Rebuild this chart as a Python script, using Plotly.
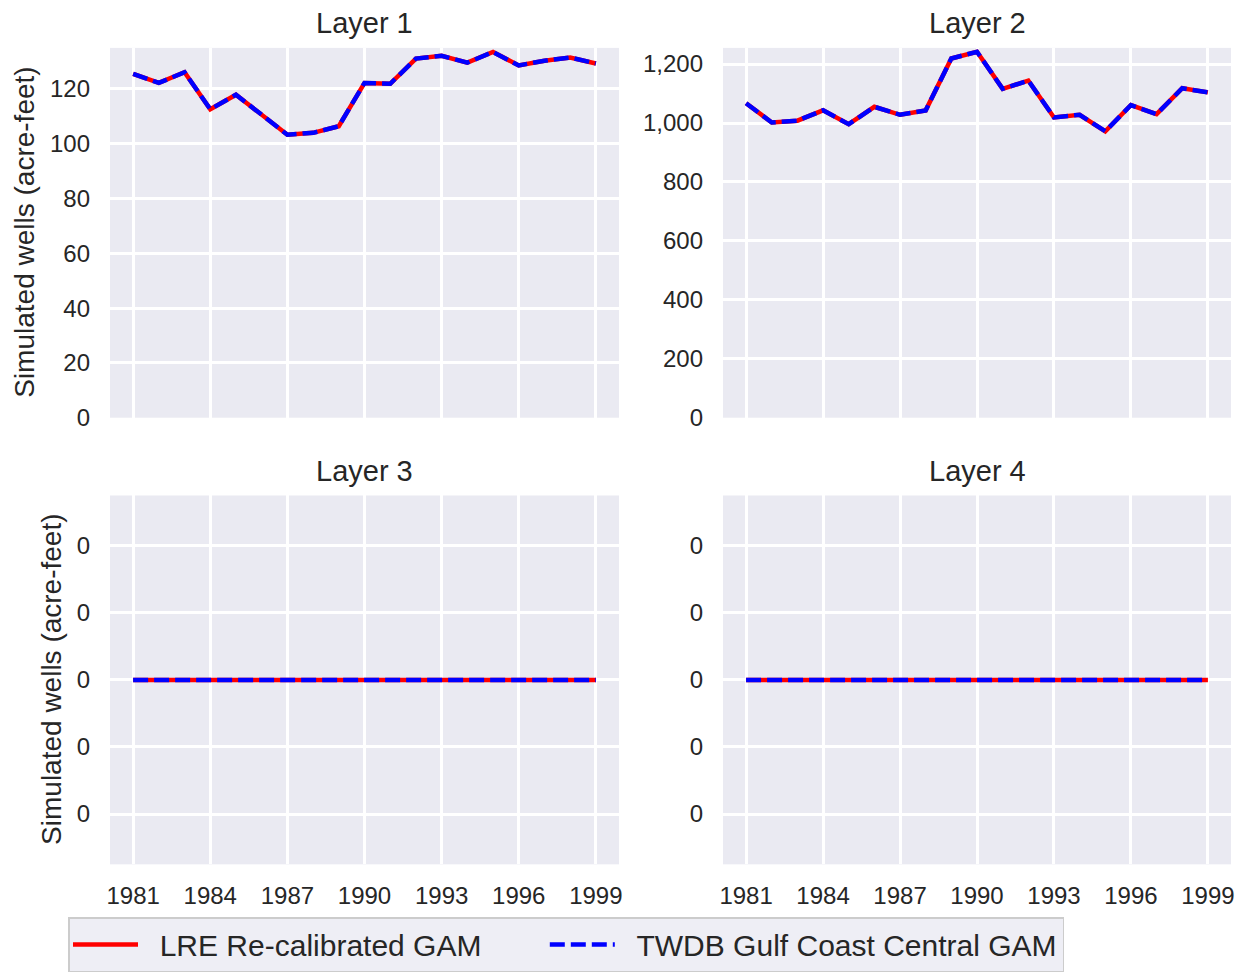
import plotly.graph_objects as go

years = list(range(1981, 2000))

layer1_lre = [125.5, 122.2, 126.1, 112.6, 117.9, 110.7, 103.3, 104.0, 106.4, 122.2,
              121.9, 131.1, 132.1, 129.6, 133.5, 128.6, 130.3, 131.5, 129.3]
layer1_twdb = list(layer1_lre)

layer2_lre = [1067, 1002, 1008, 1043, 996, 1055, 1028, 1043, 1219, 1242,
              1116, 1144, 1019, 1028, 972, 1061, 1030, 1118, 1104]
layer2_twdb = list(layer2_lre)

layer3_lre = [0] * 19
layer3_twdb = [0] * 19
layer4_lre = [0] * 19
layer4_twdb = [0] * 19

titles = ["Layer 1", "Layer 2", "Layer 3", "Layer 4"]
series_names = ["LRE Re-calibrated GAM", "TWDB Gulf Coast Central GAM"]
ylabel = "Simulated wells (acre-feet)"
small_tickvals = [-0.04, -0.02, 0, 0.02, 0.04]
small_ticktext = ["0", "0", "0", "0", "0"]

# page body has an 8px margin; work in page pixels and convert
OFF = 8
W, H = 1249 - OFF, 972 - OFF
FONT = "Liberation Sans, Arial, sans-serif"
TXT = "#262626"
BG = "#EAEAF2"
NB = "\u00a0"


def px(x):
    return (x - OFF) / W


def py(y):
    return 1 - (y - OFF) / H


# panel pixel boxes in page coords (left, right, top, bottom)
boxes = [(110, 619, 48, 419), (723, 1231, 48, 419),
         (110, 619, 497, 867), (723, 1231, 497, 867)]

legend_labels = [NB * 2 + series_names[0] + NB * 7, NB * 2 + series_names[1]]

fig = go.Figure()
data = [(layer1_lre, layer1_twdb), (layer2_lre, layer2_twdb),
        (layer3_lre, layer3_twdb), (layer4_lre, layer4_twdb)]

for i, (lre, twdb) in enumerate(data):
    ax = "" if i == 0 else str(i + 1)
    fig.add_trace(go.Scatter(x=years, y=lre, mode="lines", name=legend_labels[0],
                             line=dict(color="#ff0000", width=4.5),
                             xaxis="x" + ax, yaxis="y" + ax,
                             showlegend=(i == 0), legendgroup="a"))
    fig.add_trace(go.Scatter(x=years, y=twdb, mode="lines", name=legend_labels[1],
                             line=dict(color="#0000ff", width=4.5, dash="15px,6px"),
                             xaxis="x" + ax, yaxis="y" + ax,
                             showlegend=(i == 0), legendgroup="b"))

layout = dict(
    width=W, height=H,
    margin=dict(l=0, r=0, t=0, b=0),
    paper_bgcolor="white", plot_bgcolor=BG,
    font=dict(family=FONT, color=TXT, size=24),
    showlegend=True,
    legend=dict(orientation="h", x=px(68), y=py(920), xanchor="left", yanchor="top",
                font=dict(size=30, family=FONT, color=TXT),
                bgcolor="rgba(234,234,242,0.8)", bordercolor="#cccccc", borderwidth=1.5,
                itemwidth=65),
)

yranges = [[0, 135], [0, 1255], [-0.055, 0.055], [-0.055, 0.055]]
annotations = []
for i, (l, r, t, b) in enumerate(boxes):
    ax = "" if i == 0 else str(i + 1)
    xa = dict(domain=[px(l), px(r)], range=[1980.1, 1999.9], anchor="y" + ax,
              tickmode="linear", tick0=1981, dtick=3, showgrid=True, gridcolor="white",
              gridwidth=2.5, zeroline=False, showline=False, ticks="",
              ticklabelstandoff=15, tickfont=dict(size=24, color=TXT),
              automargin=False, showticklabels=(i >= 2))
    ya = dict(domain=[py(b), py(t)], range=yranges[i], anchor="x" + ax,
              showgrid=True, gridcolor="white", gridwidth=2.5, zeroline=False,
              showline=False, ticks="", ticklabelstandoff=19,
              tickfont=dict(size=24, color=TXT), automargin=False)
    if i == 0:
        ya.update(tickmode="linear", tick0=0, dtick=20)
    elif i == 1:
        ya.update(tickmode="linear", tick0=0, dtick=200, tickformat=",d")
    else:
        ya.update(tickmode="array", tickvals=small_tickvals, ticktext=small_ticktext)
    layout["xaxis" + ax] = xa
    layout["yaxis" + ax] = ya
    annotations.append(dict(text=titles[i], x=px((l + r) / 2), y=py(t - 25),
                            xref="paper", yref="paper", xanchor="center", yanchor="middle",
                            showarrow=False, font=dict(size=29, family=FONT, color=TXT)))

annotations.append(dict(text=ylabel, x=px(25), y=py(233.5), xref="paper", yref="paper",
                        xanchor="center", yanchor="middle", textangle=-90, showarrow=False,
                        font=dict(size=28, family=FONT, color=TXT)))
annotations.append(dict(text=ylabel, x=px(52), y=py(682), xref="paper", yref="paper",
                        xanchor="center", yanchor="middle", textangle=-90, showarrow=False,
                        font=dict(size=28, family=FONT, color=TXT)))
layout["annotations"] = annotations

fig.update_layout(**layout)
fig.write_html("out.html")
